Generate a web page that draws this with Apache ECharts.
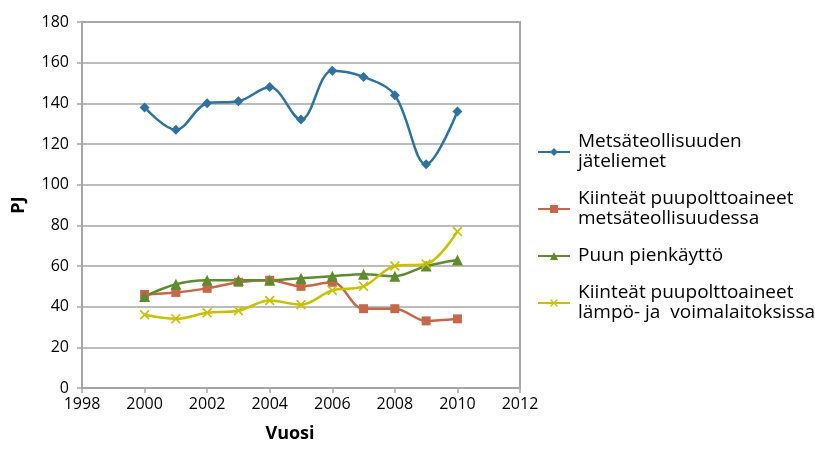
<!DOCTYPE html>
<html>
<head>
<meta charset="utf-8">
<script src="https://cdn.jsdelivr.net/npm/echarts@6/dist/echarts.min.js"></script>
<style>
  html, body { margin: 0; padding: 0; background: #ffffff; }
  #chart { width: 815px; height: 450px; }
</style>
</head>
<body>
<div id="chart"></div>
<script>
// Wood energy use in Finland, PJ per year
const years = [2000, 2001, 2002, 2003, 2004, 2005, 2006, 2007, 2008, 2009, 2010];
const jateliemet = [138, 127, 140, 141, 148, 132, 156, 153, 144, 110, 136];
const kiinteatMetsa = [46, 47, 49, 52, 53, 50, 52, 39, 39, 33, 34];
const pienkaytto = [45, 51, 53, 53, 53, 54, 55, 56, 55, 60, 63];
const kiinteatVoima = [36, 34, 37, 38, 43, 41, 48, 50, 60, 61, 77];

const seriesNames = [
  'Metsäteollisuuden\njäteliemet',
  'Kiinteät puupolttoaineet\nmetsäteollisuudessa',
  'Puun pienkäyttö',
  'Kiinteät puupolttoaineet\nlämpö- ja  voimalaitoksissa'
];

const FONT = 'Open Sans';
const crossPath = 'path://M0,1.2L1.2,0L5,3.8L8.8,0L10,1.2L6.2,5L10,8.8L8.8,10L5,6.2L1.2,10L0,8.8L3.8,5Z';

function pairs(vals) {
  return years.map((y, i) => [y, vals[i]]);
}

function lineSeries(name, vals, color, symbol, size) {
  return {
    name: name,
    type: 'line',
    smooth: 0.35,
    data: pairs(vals),
    symbol: symbol,
    symbolSize: size,
    showAllSymbol: true,
    lineStyle: { color: color, width: 2.5 },
    itemStyle: { color: color },
    emphasis: { disabled: true }
  };
}

const chart = echarts.init(document.getElementById('chart'), null, { renderer: 'canvas' });
chart.setOption({
  animation: false,
  backgroundColor: '#ffffff',
  textStyle: { fontFamily: FONT },
  grid: {
    left: 82, right: 295, top: 22, bottom: 62,
    show: true, borderColor: '#a6a6a6', borderWidth: 2
  },
  xAxis: {
    type: 'value',
    min: 1998, max: 2012, interval: 2,
    name: 'Vuosi',
    nameLocation: 'middle',
    nameGap: 37,
    nameTextStyle: { fontFamily: FONT, fontSize: 18, fontWeight: 'bold', color: '#000', padding: [0, 22, 0, 0] },
    axisLine: { show: true, lineStyle: { color: '#a6a6a6', width: 2 } },
    axisTick: { show: true, length: 5, lineStyle: { color: '#a6a6a6', width: 1.5 } },
    axisLabel: { fontFamily: FONT, fontSize: 16, color: '#000', margin: 8, formatter: v => String(v) },
    splitLine: { show: false }
  },
  yAxis: {
    type: 'value',
    min: 0, max: 180, interval: 20,
    name: 'PJ',
    nameLocation: 'middle',
    nameGap: 54,
    nameTextStyle: { fontFamily: FONT, fontSize: 18, fontWeight: 'bold', color: '#000' },
    axisLine: { show: true, lineStyle: { color: '#a6a6a6', width: 2 } },
    axisTick: { show: true, length: 5, lineStyle: { color: '#a6a6a6', width: 1.5 } },
    axisLabel: { fontFamily: FONT, fontSize: 16, color: '#000', margin: 13 },
    splitLine: { show: true, lineStyle: { color: '#a6a6a6', width: 1.5 } }
  },
  legend: {
    orient: 'vertical',
    left: 532,
    top: 127,
    itemWidth: 32,
    itemHeight: 10,
    itemGap: 17,
    selectedMode: false,
    textStyle: { fontFamily: FONT, fontSize: 19, color: '#000', lineHeight: 20, padding: [0, 0, 0, 3] },
    data: seriesNames
  },
  series: [
    lineSeries(seriesNames[0], jateliemet, '#2e72a0', 'diamond', 10),
    lineSeries(seriesNames[1], kiinteatMetsa, '#c5684a', 'rect', 9),
    lineSeries(seriesNames[2], pienkaytto, '#5e8b2e', 'triangle', 11),
    lineSeries(seriesNames[3], kiinteatVoima, '#c8c000', crossPath, 10)
  ]
});
</script>
</body>
</html>
